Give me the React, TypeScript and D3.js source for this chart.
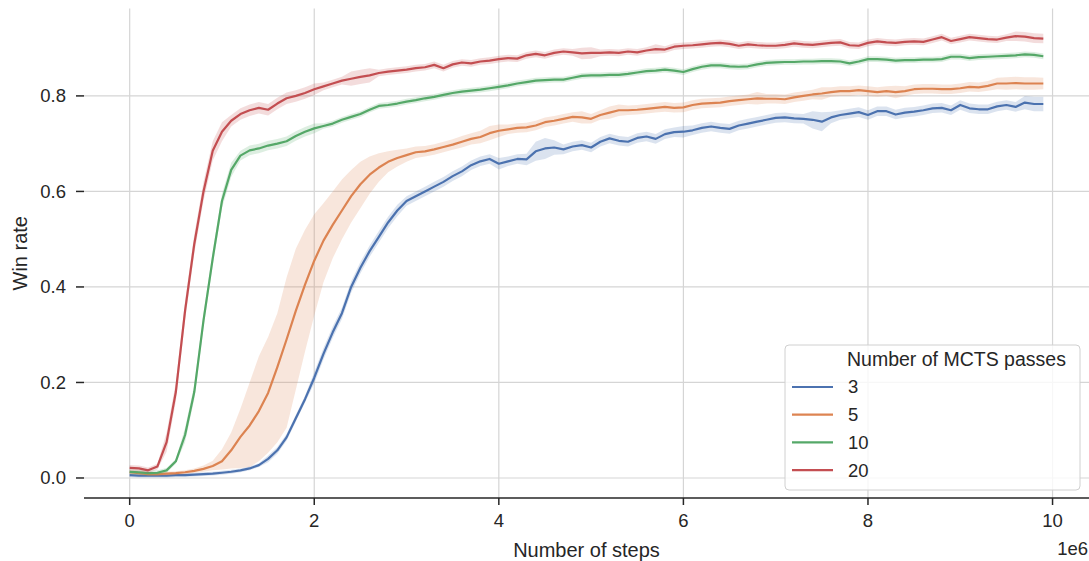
import React, { useRef, useEffect } from "react";
import * as d3 from "d3";

// training steps: one sample every 100k steps, 0 .. 9.9M
const STEP = 100000;

const blueMean = [
  0.006, 0.005, 0.005, 0.005, 0.005, 0.006, 0.006, 0.007, 0.008, 0.009,
  0.011, 0.013, 0.016, 0.02, 0.027, 0.04, 0.058, 0.085, 0.125, 0.165,
  0.21, 0.26, 0.305, 0.345, 0.4, 0.44, 0.475, 0.505, 0.535, 0.56,
  0.58, 0.59, 0.6, 0.61, 0.62, 0.632, 0.642, 0.655, 0.663, 0.668,
  0.658, 0.663, 0.668, 0.667, 0.684, 0.69, 0.692, 0.688, 0.694, 0.697,
  0.692, 0.704, 0.711, 0.706, 0.704, 0.712, 0.715, 0.71, 0.72, 0.724,
  0.725, 0.728, 0.733, 0.736, 0.733, 0.731, 0.738, 0.742, 0.746, 0.75,
  0.754, 0.755, 0.753, 0.752, 0.75, 0.746, 0.755, 0.76, 0.763, 0.766,
  0.76, 0.768, 0.768, 0.761, 0.765, 0.767, 0.77, 0.774, 0.775, 0.77,
  0.781, 0.774, 0.772, 0.772, 0.778, 0.781, 0.777, 0.786, 0.783, 0.783,
];
const blueCi = [
  0.004, 0.004, 0.004, 0.004, 0.004, 0.004, 0.004, 0.004, 0.004, 0.004,
  0.004, 0.004, 0.004, 0.004, 0.004, 0.007, 0.007, 0.007, 0.007, 0.007,
  0.012, 0.012, 0.012, 0.012, 0.012, 0.012, 0.012, 0.012, 0.012, 0.012,
  0.01, 0.01, 0.01, 0.01, 0.01, 0.01, 0.01, 0.01, 0.01, 0.01,
  0.012, 0.01, 0.01, 0.012, 0.02, 0.022, 0.015, 0.01, 0.01, 0.01,
  0.01, 0.01, 0.01, 0.01, 0.01, 0.01, 0.01, 0.01, 0.01, 0.01,
  0.012, 0.01, 0.01, 0.01, 0.01, 0.01, 0.01, 0.01, 0.01, 0.01,
  0.01, 0.01, 0.01, 0.01, 0.018, 0.02, 0.012, 0.01, 0.01, 0.01,
  0.01, 0.01, 0.01, 0.01, 0.01, 0.01, 0.01, 0.01, 0.01, 0.01,
  0.01, 0.01, 0.01, 0.01, 0.01, 0.01, 0.01, 0.014, 0.015, 0.015,
];

const orangeMean = [
  0.012, 0.01, 0.008, 0.008, 0.009, 0.01, 0.012, 0.015, 0.019, 0.025,
  0.035, 0.058, 0.086, 0.11, 0.14, 0.178, 0.232, 0.29, 0.35, 0.405,
  0.455, 0.497, 0.53, 0.56, 0.59, 0.615, 0.635, 0.65, 0.662, 0.67,
  0.676, 0.682, 0.684, 0.688, 0.693, 0.698, 0.704, 0.71, 0.714, 0.722,
  0.727, 0.73, 0.733, 0.734, 0.738, 0.745, 0.748, 0.752, 0.756, 0.755,
  0.752, 0.76, 0.765, 0.77, 0.77, 0.771, 0.773, 0.775, 0.777, 0.775,
  0.776, 0.781, 0.784, 0.785, 0.786, 0.789, 0.791, 0.793, 0.795, 0.794,
  0.794, 0.793, 0.797, 0.8, 0.803, 0.805, 0.808, 0.81, 0.81, 0.812,
  0.81, 0.808, 0.81, 0.808, 0.81, 0.814, 0.815, 0.815, 0.814, 0.814,
  0.816, 0.819, 0.818, 0.821, 0.826, 0.826, 0.827, 0.826, 0.826, 0.826,
];
const orangeLow = [
  0.008, 0.006, 0.004, 0.004, 0.005, 0.006, 0.008, 0.011, 0.013, 0.016,
  0.018, 0.02, 0.021, 0.023, 0.035, 0.053, 0.075, 0.105, 0.185, 0.265,
  0.34, 0.41, 0.46, 0.5, 0.535, 0.565, 0.595, 0.62, 0.64, 0.652,
  0.662, 0.67, 0.673, 0.677, 0.682, 0.687, 0.692, 0.698, 0.701, 0.707,
  0.714, 0.72, 0.723, 0.724, 0.728, 0.735, 0.738, 0.742, 0.746, 0.742,
  0.742, 0.75, 0.752, 0.758, 0.76, 0.761, 0.763, 0.765, 0.767, 0.765,
  0.766, 0.771, 0.774, 0.775, 0.776, 0.779, 0.781, 0.783, 0.782, 0.784,
  0.784, 0.783, 0.787, 0.79, 0.793, 0.792, 0.798, 0.8, 0.8, 0.802,
  0.8, 0.798, 0.8, 0.795, 0.8, 0.804, 0.805, 0.805, 0.804, 0.804,
  0.806, 0.809, 0.808, 0.811, 0.814, 0.813, 0.814, 0.813, 0.813, 0.814,
];
const orangeHigh = [
  0.016, 0.014, 0.012, 0.012, 0.013, 0.014, 0.016, 0.02, 0.026, 0.036,
  0.06, 0.095, 0.145, 0.2, 0.255, 0.295, 0.345, 0.42, 0.48, 0.52,
  0.552, 0.575, 0.6, 0.625, 0.645, 0.662, 0.673, 0.68, 0.684, 0.687,
  0.69, 0.694, 0.695, 0.699, 0.704, 0.709, 0.716, 0.722, 0.727, 0.737,
  0.74, 0.74, 0.743, 0.744, 0.748, 0.755, 0.758, 0.762, 0.766, 0.768,
  0.762, 0.77, 0.778, 0.782, 0.78, 0.781, 0.783, 0.785, 0.787, 0.785,
  0.786, 0.791, 0.794, 0.795, 0.796, 0.799, 0.801, 0.803, 0.808, 0.804,
  0.804, 0.803, 0.807, 0.81, 0.813, 0.818, 0.818, 0.82, 0.82, 0.822,
  0.82, 0.818, 0.82, 0.821, 0.82, 0.824, 0.825, 0.825, 0.824, 0.824,
  0.826, 0.829, 0.828, 0.831, 0.838, 0.839, 0.84, 0.839, 0.839, 0.838,
];

const greenMean = [
  0.013, 0.012, 0.01, 0.011, 0.016, 0.035, 0.09, 0.18, 0.33, 0.46,
  0.58, 0.645, 0.675, 0.686, 0.69, 0.696, 0.7, 0.705, 0.716, 0.725,
  0.732, 0.737, 0.742, 0.75, 0.756, 0.762, 0.771, 0.779, 0.781, 0.784,
  0.788, 0.791, 0.795, 0.798, 0.802, 0.806, 0.809, 0.811, 0.813, 0.816,
  0.819, 0.822, 0.826, 0.829, 0.832, 0.833, 0.834, 0.834, 0.838, 0.842,
  0.843, 0.843, 0.844, 0.844, 0.846, 0.849, 0.852, 0.853, 0.855, 0.853,
  0.85, 0.856, 0.861, 0.864, 0.864, 0.862, 0.861, 0.862, 0.866, 0.869,
  0.87, 0.871, 0.871, 0.872, 0.872, 0.873, 0.873, 0.872, 0.868, 0.872,
  0.877, 0.877, 0.876, 0.874, 0.875, 0.875, 0.876, 0.876, 0.877, 0.882,
  0.882, 0.879, 0.881, 0.882, 0.883, 0.884, 0.885, 0.887, 0.886, 0.883,
];
const greenCi = [
  0.005, 0.005, 0.005, 0.005, 0.005, 0.005, 0.015, 0.015, 0.015, 0.015,
  0.015, 0.015, 0.01, 0.01, 0.01, 0.01, 0.01, 0.01, 0.01, 0.01,
  0.01, 0.006, 0.006, 0.006, 0.006, 0.006, 0.006, 0.006, 0.006, 0.006,
  0.006, 0.006, 0.006, 0.006, 0.006, 0.006, 0.006, 0.006, 0.006, 0.006,
  0.006, 0.006, 0.006, 0.006, 0.006, 0.006, 0.006, 0.006, 0.006, 0.006,
  0.006, 0.006, 0.006, 0.006, 0.006, 0.006, 0.006, 0.006, 0.006, 0.006,
  0.006, 0.006, 0.006, 0.006, 0.006, 0.006, 0.006, 0.006, 0.006, 0.006,
  0.006, 0.006, 0.006, 0.006, 0.006, 0.006, 0.006, 0.006, 0.006, 0.006,
  0.006, 0.006, 0.006, 0.006, 0.006, 0.006, 0.006, 0.006, 0.006, 0.006,
  0.006, 0.006, 0.006, 0.006, 0.006, 0.006, 0.006, 0.006, 0.006, 0.006,
];

const redMean = [
  0.021, 0.02, 0.016, 0.024, 0.075, 0.18, 0.35, 0.49, 0.6, 0.685,
  0.725, 0.748, 0.762, 0.77, 0.775, 0.771, 0.784, 0.795, 0.8, 0.806,
  0.814, 0.82, 0.826, 0.832, 0.836, 0.84, 0.843, 0.848, 0.851, 0.853,
  0.855, 0.858, 0.86, 0.865, 0.858, 0.866, 0.87, 0.868, 0.872, 0.874,
  0.877, 0.879, 0.878, 0.885, 0.888, 0.885, 0.89, 0.893, 0.891, 0.889,
  0.89, 0.89, 0.891, 0.89, 0.893, 0.891, 0.895, 0.898, 0.897, 0.903,
  0.905, 0.906, 0.908, 0.91, 0.911, 0.909, 0.905, 0.908, 0.906, 0.905,
  0.905, 0.907, 0.91, 0.908, 0.907, 0.909, 0.911, 0.912, 0.906, 0.905,
  0.911, 0.914, 0.912, 0.911, 0.913, 0.914, 0.913, 0.918, 0.923, 0.915,
  0.919, 0.923, 0.921, 0.919, 0.918, 0.922, 0.925, 0.924, 0.921, 0.92,
];
const redCi = [
  0.006, 0.006, 0.006, 0.006, 0.02, 0.02, 0.02, 0.02, 0.02, 0.02,
  0.02, 0.012, 0.012, 0.012, 0.012, 0.012, 0.012, 0.012, 0.012, 0.012,
  0.012, 0.008, 0.008, 0.008, 0.015, 0.015, 0.015, 0.007, 0.007, 0.007,
  0.007, 0.007, 0.007, 0.007, 0.007, 0.007, 0.007, 0.007, 0.007, 0.007,
  0.007, 0.007, 0.007, 0.007, 0.007, 0.007, 0.007, 0.007, 0.007, 0.012,
  0.012, 0.007, 0.007, 0.007, 0.007, 0.007, 0.007, 0.01, 0.007, 0.007,
  0.007, 0.007, 0.007, 0.007, 0.007, 0.007, 0.007, 0.007, 0.007, 0.007,
  0.007, 0.007, 0.007, 0.007, 0.007, 0.007, 0.007, 0.007, 0.007, 0.007,
  0.007, 0.007, 0.007, 0.007, 0.007, 0.007, 0.007, 0.007, 0.007, 0.007,
  0.007, 0.007, 0.007, 0.007, 0.007, 0.007, 0.01, 0.01, 0.01, 0.01,
];

const passLabels = ["3", "5", "10", "20"];
const palette = ["#4c72b0", "#dd8452", "#55a868", "#c44e52"];
const xTicks = [0, 2e6, 4e6, 6e6, 8e6, 1e7];
const yTicks = [0, 0.2, 0.4, 0.6, 0.8];

type Pt = { x: number; y: number; lo: number; hi: number };

function buildSeries(): { label: string; color: string; pts: Pt[] }[] {
  const sym = (mean: number[], ci: number[]) =>
    mean.map((v, i) => ({ x: i * STEP, y: v, lo: v - ci[i], hi: v + ci[i] }));
  const orange = orangeMean.map((v, i) => ({
    x: i * STEP,
    y: v,
    lo: orangeLow[i],
    hi: orangeHigh[i],
  }));
  const all = [sym(blueMean, blueCi), orange, sym(greenMean, greenCi), sym(redMean, redCi)];
  return all.map((pts, i) => ({ label: passLabels[i], color: palette[i], pts }));
}

const W = 1089;
const H = 561;
const FONT = "'Liberation Sans', Arial, 'DejaVu Sans', sans-serif";
const INK = "#262626";
const TICK_SIZE = 18.5;
const LABEL_SIZE = 20;

export default function App() {
  const svgRef = useRef<SVGSVGElement | null>(null);

  useEffect(() => {
    const svg = d3.select(svgRef.current);
    svg.selectAll("*").remove();

    const left = 84;
    const right = 1089;
    const top = 8.5;
    const bottom = 498;

    // matplotlib-style 5% margins around data
    const x = d3.scaleLinear().domain([-0.495e6, 10.395e6]).range([left, right]);
    const y = d3.scaleLinear().domain([-0.0419, 0.983]).range([bottom, top]);

    const series = buildSeries();

    // grid
    const grid = svg.append("g");
    grid
      .selectAll("line.h")
      .data(yTicks)
      .join("line")
      .attr("x1", left)
      .attr("x2", right)
      .attr("y1", (d) => y(d))
      .attr("y2", (d) => y(d))
      .attr("stroke", "#d5d5d5")
      .attr("stroke-width", 1.2);
    grid
      .selectAll("line.v")
      .data(xTicks)
      .join("line")
      .attr("x1", (d) => x(d))
      .attr("x2", (d) => x(d))
      .attr("y1", top)
      .attr("y2", bottom)
      .attr("stroke", "#d5d5d5")
      .attr("stroke-width", 1.2);

    // lines + confidence bands (seaborn order: line then band per hue)
    const line = d3
      .line<Pt>()
      .x((d) => x(d.x))
      .y((d) => y(d.y));
    const area = d3
      .area<Pt>()
      .x((d) => x(d.x))
      .y0((d) => y(d.lo))
      .y1((d) => y(d.hi));

    const plot = svg.append("g");
    series.forEach((s) => {
      plot
        .append("path")
        .datum(s.pts)
        .attr("fill", "none")
        .attr("stroke", s.color)
        .attr("stroke-width", 2.2)
        .attr("stroke-linejoin", "round")
        .attr("d", line);
      plot
        .append("path")
        .datum(s.pts)
        .attr("fill", s.color)
        .attr("fill-opacity", 0.2)
        .attr("stroke", "none")
        .attr("d", area);
    });

    // bottom spine (offset) + x ticks
    const xAxis = svg.append("g");
    xAxis
      .append("line")
      .attr("x1", left)
      .attr("x2", right)
      .attr("y1", bottom)
      .attr("y2", bottom)
      .attr("stroke", INK)
      .attr("stroke-width", 1.5);
    const xt = xAxis
      .selectAll("g.tick")
      .data(xTicks)
      .join("g")
      .attr("transform", (d) => `translate(${x(d)},${bottom})`);
    xt.append("line").attr("y2", 7).attr("stroke", INK).attr("stroke-width", 1.5);
    xt.append("text")
      .attr("y", 29)
      .attr("text-anchor", "middle")
      .attr("fill", INK)
      .attr("font-family", FONT)
      .attr("font-size", TICK_SIZE)
      .text((d) => String(d / 1e6));

    svg
      .append("text")
      .attr("x", 1088)
      .attr("y", 555)
      .attr("text-anchor", "end")
      .attr("fill", INK)
      .attr("font-family", FONT)
      .attr("font-size", TICK_SIZE)
      .text("1e6");

    // y ticks (no left spine)
    const yt = svg
      .append("g")
      .selectAll("g.tick")
      .data(yTicks)
      .join("g")
      .attr("transform", (d) => `translate(${left},${y(d)})`);
    yt.append("line").attr("x1", -8).attr("x2", 0).attr("stroke", INK).attr("stroke-width", 1.5);
    yt.append("text")
      .attr("x", -18)
      .attr("dy", "0.35em")
      .attr("text-anchor", "end")
      .attr("fill", INK)
      .attr("font-family", FONT)
      .attr("font-size", TICK_SIZE)
      .text((d) => d3.format(".1f")(d));

    // axis labels
    svg
      .append("text")
      .attr("x", (left + right) / 2)
      .attr("y", 557)
      .attr("text-anchor", "middle")
      .attr("fill", INK)
      .attr("font-family", FONT)
      .attr("font-size", LABEL_SIZE)
      .text("Number of steps");
    svg
      .append("text")
      .attr("transform", `translate(${27},${(top + bottom) / 2}) rotate(-90)`)
      .attr("text-anchor", "middle")
      .attr("fill", INK)
      .attr("font-family", FONT)
      .attr("font-size", LABEL_SIZE)
      .text("Win rate");

    // legend
    const lg = svg.append("g").attr("transform", "translate(785,345)");
    lg.append("rect")
      .attr("width", 295)
      .attr("height", 145)
      .attr("rx", 4)
      .attr("fill", "#ffffff")
      .attr("fill-opacity", 0.8)
      .attr("stroke", "#d0d0d0")
      .attr("stroke-width", 1);
    lg.append("text")
      .attr("x", 62)
      .attr("y", 21)
      .attr("fill", INK)
      .attr("font-family", FONT)
      .attr("font-size", 19.5)
      .text("Number of MCTS passes");
    const items = lg
      .selectAll("g.item")
      .data(series)
      .join("g")
      .attr("transform", (_, i) => `translate(0,${42 + i * 27.7})`);
    items
      .append("line")
      .attr("x1", 7)
      .attr("x2", 48)
      .attr("stroke", (d) => d.color)
      .attr("stroke-width", 2.2);
    items
      .append("text")
      .attr("x", 63)
      .attr("dy", "0.35em")
      .attr("fill", INK)
      .attr("font-family", FONT)
      .attr("font-size", TICK_SIZE)
      .text((d) => d.label);
  }, []);

  return (
    <svg
      ref={svgRef}
      width={W}
      height={H}
      style={{ position: "absolute", left: 0, top: 0, background: "#fff" }}
    />
  );
}
